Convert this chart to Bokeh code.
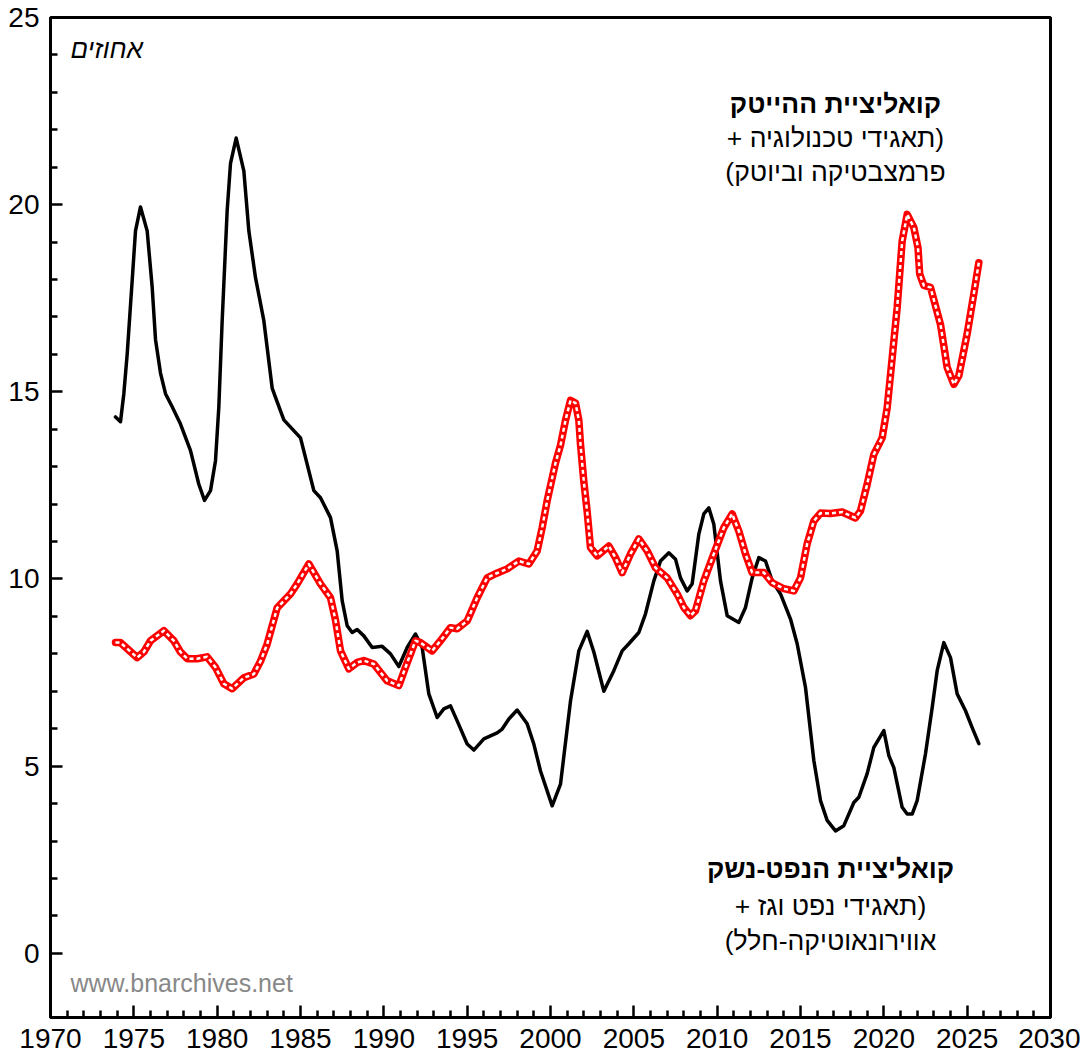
from bokeh.plotting import figure
from bokeh.models import Range1d, FixedTicker, Label
from bokeh.embed import file_html
from bokeh.resources import INLINE

# ---- data ----
oil_years = [1973.9, 1974.2, 1974.4, 1974.6, 1974.9, 1975.1, 1975.4, 1975.8, 1976.1, 1976.3,
             1976.6, 1976.9, 1977.3, 1977.8, 1978.4, 1978.9, 1979.24, 1979.6, 1979.9, 1980.1,
             1980.3, 1980.6, 1980.8, 1981.14, 1981.6, 1981.9, 1982.3, 1982.8, 1983.3, 1983.5,
             1984.0, 1985.0, 1985.8, 1986.2, 1986.8, 1987.2, 1987.5, 1987.8, 1988.1, 1988.4,
             1988.8, 1989.3, 1989.9, 1990.4, 1990.9, 1991.4, 1991.9, 1992.3, 1992.7, 1993.2,
             1993.6, 1994.0, 1994.4, 1995.0, 1995.4, 1996.0, 1996.8, 1997.1, 1997.5, 1998.0,
             1998.6, 1999.0, 1999.4, 2000.1, 2000.6, 2001.2, 2001.7, 2002.2, 2002.6, 2003.2,
             2003.8, 2004.3, 2004.7, 2005.3, 2005.7, 2006.2, 2006.6, 2007.1, 2007.5, 2007.8,
             2008.2, 2008.5, 2008.9, 2009.2, 2009.5, 2009.8, 2010.2, 2010.6, 2011.3, 2011.7,
             2012.1, 2012.5, 2012.9, 2013.3, 2013.8, 2014.4, 2014.8, 2015.3, 2015.8, 2016.2,
             2016.6, 2017.1, 2017.6, 2018.2, 2018.5, 2019.0, 2019.4, 2020.0, 2020.3, 2020.6,
             2021.1, 2021.4, 2021.7, 2022.0, 2022.5, 2022.9, 2023.2, 2023.6, 2024.0, 2024.4,
             2024.9, 2025.3, 2025.7]
oil_values = [14.33, 14.2, 14.95, 16.0, 17.97, 19.3, 19.94, 19.3, 17.8, 16.4,
              15.5, 14.95, 14.6, 14.14, 13.43, 12.53, 12.1, 12.36, 13.16, 14.6,
              16.9, 19.84, 21.1, 21.78, 20.9, 19.3, 18.05, 16.9, 15.1, 14.85,
              14.25, 13.77, 12.36, 12.17, 11.64, 10.75, 9.42, 8.75, 8.57, 8.65,
              8.48, 8.17, 8.2, 8.0, 7.66, 8.17, 8.53, 8.17, 6.93, 6.3,
              6.53, 6.61, 6.21, 5.59, 5.43, 5.73, 5.89, 5.99, 6.26, 6.5,
              6.13, 5.59, 4.87, 3.94, 4.52, 6.74, 8.08, 8.6, 8.05, 7.0,
              7.55, 8.08, 8.27, 8.57, 9.07, 9.95, 10.48, 10.7, 10.53, 10.03,
              9.68, 9.87, 11.2, 11.74, 11.9, 11.46, 9.95, 9.02, 8.84, 9.24,
              10.03, 10.57, 10.48, 9.95, 9.6, 8.93, 8.27, 7.1, 5.15, 4.08,
              3.55, 3.27, 3.41, 4.03, 4.17, 4.8, 5.5, 5.95, 5.28, 4.96,
              3.9, 3.72, 3.72, 4.08, 5.33, 6.56, 7.55, 8.3, 7.9, 6.93,
              6.48, 6.03, 5.6]

tech_years = [1973.9, 1974.2, 1974.7, 1975.2, 1975.6, 1976.0, 1976.8, 1977.4, 1977.8, 1978.2,
              1978.8, 1979.4, 1979.9, 1980.4, 1980.9, 1981.6, 1982.2, 1982.6, 1983.0, 1983.6,
              1984.4, 1984.8, 1985.5, 1986.2, 1986.8, 1987.1, 1987.4, 1987.9, 1988.4, 1988.8,
              1989.4, 1990.2, 1990.9, 1991.3, 1991.9, 1992.2, 1992.9, 1993.4, 1994.0, 1994.4,
              1995.0, 1995.6, 1996.2, 1996.7, 1997.4, 1998.1, 1998.7, 1999.2, 1999.5, 1999.8,
              2000.3, 2000.6, 2000.9, 2001.2, 2001.5, 2001.7, 2001.8, 2002.0, 2002.2, 2002.4,
              2002.8, 2003.5, 2003.9, 2004.3, 2004.8, 2005.3, 2005.8, 2006.3, 2007.0, 2007.6,
              2008.0, 2008.4, 2008.7, 2009.2, 2009.8, 2010.4, 2010.9, 2011.3, 2011.7, 2012.1,
              2012.8, 2013.3, 2014.0, 2014.6, 2015.0, 2015.4, 2015.8, 2016.2, 2016.8, 2017.5,
              2018.3, 2018.6, 2019.0, 2019.4, 2019.9, 2020.2, 2020.5, 2020.8, 2021.1, 2021.4,
              2021.8, 2022.05, 2022.15, 2022.4, 2022.8, 2023.4, 2023.8, 2024.2, 2024.5, 2025.0,
              2025.4, 2025.7]
tech_values = [8.3, 8.3, 8.1, 7.9, 8.05, 8.35, 8.62, 8.35, 8.05, 7.87,
               7.87, 7.92, 7.64, 7.2, 7.07, 7.36, 7.46, 7.8, 8.26, 9.23,
               9.6, 9.87, 10.4, 9.87, 9.5, 8.9, 8.08, 7.6, 7.77, 7.82,
               7.73, 7.28, 7.15, 7.64, 8.35, 8.3, 8.08, 8.35, 8.7, 8.67,
               8.88, 9.5, 10.03, 10.14, 10.27, 10.48, 10.4, 10.75, 11.37, 12.09,
               13.1, 13.57, 14.24, 14.77, 14.7, 14.24, 13.6, 12.6, 11.8, 10.84,
               10.62, 10.88, 10.57, 10.17, 10.67, 11.07, 10.75, 10.3, 10.03, 9.6,
               9.24, 9.02, 9.15, 9.95, 10.67, 11.37, 11.74, 11.28, 10.67, 10.17,
               10.17, 9.9, 9.74, 9.68, 10.03, 10.94, 11.55, 11.76, 11.75, 11.79,
               11.63, 11.82, 12.53, 13.33, 13.77, 14.57, 15.9, 17.25, 19.03, 19.74,
               19.39, 18.85, 18.15, 17.84, 17.79, 16.8, 15.65, 15.2, 15.43, 16.55,
               17.62, 18.45]

x_major = [1970, 1975, 1980, 1985, 1990, 1995, 2000, 2005, 2010, 2015, 2020, 2025, 2030]
y_major = [0, 5, 10, 15, 20, 25]

# Hebrew texts in logical order
tech_title = ["קואליציית ההייטק", "(תאגידי טכנולוגיה +", "פרמצבטיקה וביוטק)"]
oil_title = ["קואליציית הנפט-נשק", "(תאגידי נפט וגז +", "אווירונאוטיקה-חלל)"]
unit_label = "אחוזים"
source_label = "www.bnarchives.net"

RLM = "\u200f"  # right-to-left marks keep the brackets and "+" in right-to-left order

FONT = "Liberation Sans"

p = figure(width=1080, height=1061, output_backend="svg", toolbar_location=None,
           x_range=Range1d(1970, 2030), y_range=Range1d(-1.715, 25),
           min_border_left=50, min_border_right=30, min_border_top=17, min_border_bottom=44)
p.background_fill_color = "white"
p.border_fill_color = "white"
p.outline_line_color = "black"
p.outline_line_width = 3
p.xgrid.visible = False
p.ygrid.visible = False

x_minor = [y for y in range(1971, 2030) if y % 5 != 0]
y_minor = [v for v in range(1, 25) if v % 5 != 0]
p.xaxis.ticker = FixedTicker(ticks=x_major, minor_ticks=x_minor)
p.yaxis.ticker = FixedTicker(ticks=y_major, minor_ticks=y_minor)

for ax in (p.xaxis[0], p.yaxis[0]):
    ax.axis_line_width = 3
    ax.axis_line_color = "black"
    ax.major_tick_in = 12
    ax.major_tick_out = 0
    ax.minor_tick_in = 7
    ax.minor_tick_out = 0
    ax.major_tick_line_width = 2.5
    ax.minor_tick_line_width = 2.5
    ax.major_tick_line_color = "black"
    ax.minor_tick_line_color = "black"
    ax.major_label_text_font = FONT
    ax.major_label_text_font_size = "28px"
    ax.major_label_text_color = "black"
p.xaxis.major_label_standoff = 11
p.yaxis.major_label_standoff = 11

# lines
p.line(oil_years, oil_values, line_color="black", line_width=3.5, line_join="round", line_cap="round")
p.line(tech_years, tech_values, line_color="#ff0000", line_width=7.5, line_join="round", line_cap="round")
p.line(tech_years, tech_values, line_color="white", line_width=2.5, line_dash="4 3", line_join="round")

# annotations
tech_y = [22.7, 21.79, 20.86]
oil_y = [2.26, 1.27, 0.33]
for i, (t, yy) in enumerate(zip(tech_title, tech_y)):
    p.add_layout(Label(x=2017.1, y=yy, text=RLM + t + RLM, text_align="center", text_baseline="middle",
                       text_font=FONT, text_font_size="26.5px",
                       text_font_style="bold" if i == 0 else "normal", text_color="black"))
for i, (t, yy) in enumerate(zip(oil_title, oil_y)):
    p.add_layout(Label(x=2016.8, y=yy, text=RLM + t + RLM, text_align="center", text_baseline="middle",
                       text_font=FONT, text_font_size="26.5px",
                       text_font_style="bold" if i == 0 else "normal", text_color="black"))

p.add_layout(Label(x=1971.2, y=24.17, text=unit_label, text_align="left", text_baseline="middle",
                   text_font=FONT, text_font_size="26px", text_font_style="italic", text_color="black"))
p.add_layout(Label(x=1971.2, y=-0.79, text=source_label, text_align="left", text_baseline="middle",
                   text_font=FONT, text_font_size="25px", text_color="#888888"))

open("out.html", "w").write(file_html(p, INLINE))
